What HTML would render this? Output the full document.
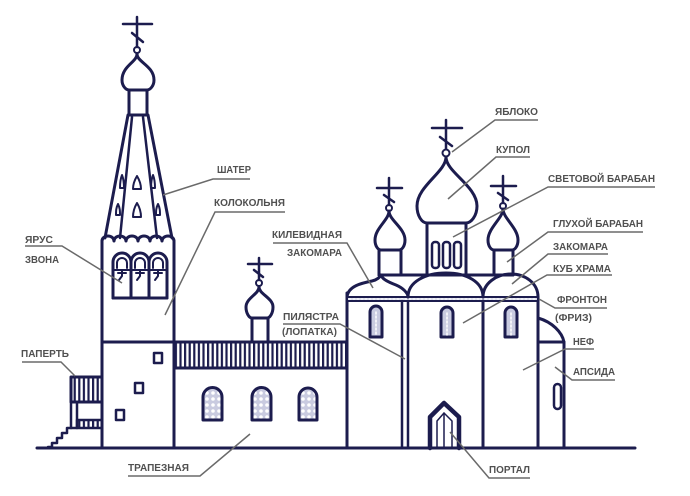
<!DOCTYPE html>
<html><head><meta charset="utf-8">
<style>
html,body{margin:0;padding:0;background:#fff;}
svg{display:block;}
text{font-family:"Liberation Sans",Arial,sans-serif;font-weight:bold;font-size:10px;fill:#505050;}
</style></head>
<body>
<svg width="690" height="496" viewBox="0 0 690 496" xmlns="http://www.w3.org/2000/svg">
<defs>
<pattern id="bars" x="0" y="0" width="4.6" height="10" patternUnits="userSpaceOnUse">
<rect x="0" y="0" width="2.2" height="10" fill="#1c1c4e"/>
</pattern>
<pattern id="latt" x="0" y="0" width="6" height="6" patternUnits="userSpaceOnUse">
<rect width="6" height="6" fill="#c9cbe0"/>
<circle cx="3" cy="3" r="1.8" fill="#fff"/>
</pattern>
</defs>
<g fill="none" stroke="#1c1c4e" stroke-width="3" stroke-linejoin="round" stroke-linecap="round">
<!-- ground -->
<line x1="37" y1="448" x2="635" y2="448"/>

<!-- ===== BELL TOWER ===== -->
<line x1="137" y1="17" x2="137" y2="47" stroke-width="2.5"/>
<line x1="123" y1="24" x2="152" y2="24" stroke-width="2.5"/>
<line x1="132" y1="33" x2="143" y2="42" stroke-width="2.5"/>
<circle cx="137" cy="50" r="3" stroke-width="2"/>
<path d="M137,54 C137,62 122,66 122,80 C122,86 126,90 129,90 L147,90 C150,90 154,86 154,80 C154,66 137,62 137,54 Z"/>
<rect x="129" y="90" width="18" height="25"/>
<line x1="128" y1="115" x2="105" y2="238"/>
<line x1="148" y1="115" x2="172" y2="238"/>
<line x1="132" y1="117" x2="120" y2="238" stroke-width="2.5"/>
<line x1="143" y1="117" x2="157" y2="238" stroke-width="2.5"/>
<!-- tent windows -->
<g stroke-width="2">
<path d="M137,176 C134,181 133,185 133,189 L141,189 C141,185 140,181 137,176 Z"/>
<path d="M137,203 C134,208 133,212 133,217 L141,217 C141,212 140,208 137,203 Z"/>
<path d="M122,175 C120,180 120,184 120,188 L124,188 C124,184 124,180 122,175 Z"/>
<path d="M153,175 C151,180 151,184 151,188 L155,188 C155,184 155,180 153,175 Z"/>
<path d="M118,204 C116,208 116,211 116,215 L120,215 C120,211 120,208 118,204 Z"/>
<path d="M158,204 C156,208 156,211 156,215 L160,215 C160,211 160,208 158,204 Z"/>
</g>
<!-- scallops -->
<path d="M102,248 L102,241 a6,5 0 0 1 12,0 a6,5 0 0 1 12,0 a6,5 0 0 1 12,0 a6,5 0 0 1 12,0 a6,5 0 0 1 12,0 a6,5 0 0 1 12,0 L174,248"/>
<line x1="102" y1="241" x2="102" y2="448"/>
<line x1="174" y1="241" x2="174" y2="448"/>
<line x1="102" y1="342" x2="174" y2="342"/>
<!-- bell openings -->
<path d="M113,298 L113,262 A9,9 0 0 1 131,262 L131,298"/>
<path d="M131,262 A9,9 0 0 1 149,262 L149,298"/>
<path d="M149,262 A9,9 0 0 1 167,262 L167,298"/>
<line x1="113" y1="298" x2="167" y2="298"/>
<path d="M117,268 L117,263 A5,5 0 0 1 127,263 L127,268" stroke-width="2"/>
<path d="M135,268 L135,263 A5,5 0 0 1 145,263 L145,268" stroke-width="2"/>
<path d="M153,268 L153,263 A5,5 0 0 1 163,263 L163,268" stroke-width="2"/>
<line x1="113" y1="270" x2="167" y2="270" stroke-width="2"/>
<g stroke-width="2">
<path d="M122,270 L122,276 L119,280"/><path d="M140,270 L140,276 L137,280"/><path d="M158,270 L158,276 L155,280"/>
<line x1="118" y1="273" x2="126" y2="273"/><line x1="136" y1="273" x2="144" y2="273"/><line x1="154" y1="273" x2="162" y2="273"/>
</g>
<!-- tower small windows -->
<rect x="154" y="353" width="8" height="10" stroke-width="2.5"/>
<rect x="135" y="383" width="8" height="10" stroke-width="2.5"/>
<rect x="116" y="410" width="8" height="10" stroke-width="2.5"/>
<!-- porch -->
<rect x="71" y="377" width="31" height="25" fill="url(#bars)"/>
<rect x="71" y="402" width="6" height="26" stroke-width="2.5"/>
<rect x="77" y="420" width="25" height="8" fill="url(#bars)" stroke-width="2.5"/>
<path d="M71,428 L67,428 L67,433 L62,433 L62,438 L57,438 L57,443 L52,443 L52,447 L48,447" stroke-width="2.5"/>

<!-- ===== TRAPEZNAYA ===== -->
<rect x="174" y="342" width="173" height="26" fill="url(#bars)"/>
<line x1="259" y1="258" x2="259" y2="280" stroke-width="2.5"/>
<line x1="248" y1="264" x2="272" y2="264" stroke-width="2.5"/>
<line x1="254" y1="270" x2="263" y2="277" stroke-width="2.5"/>
<circle cx="259" cy="283" r="3" stroke-width="2"/>
<path d="M259,287 C259,294 246,298 246,307 C246,313 249,318 252,318 L267,318 C270,318 273,313 273,307 C273,298 259,294 259,287 Z"/>
<rect x="252" y="318" width="16" height="24"/>
<path d="M203,420 L203,397 A9.5,9.5 0 0 1 222,397 L222,420 Z" fill="url(#latt)"/>
<path d="M252,420 L252,397 A9.5,9.5 0 0 1 271,397 L271,420 Z" fill="url(#latt)"/>
<path d="M299,420 L299,397 A9,9 0 0 1 317,397 L317,420 Z" fill="url(#latt)"/>

<!-- ===== MAIN CHURCH ===== -->
<line x1="347" y1="293" x2="347" y2="448"/>
<line x1="538" y1="297" x2="538" y2="448"/>
<rect x="347" y="297" width="191" height="4" fill="#d4d6e8" stroke-width="2"/>
<line x1="349" y1="299" x2="536" y2="299" stroke="#fff" stroke-width="1.2" stroke-dasharray="2 2"/>
<line x1="402" y1="301" x2="402" y2="448" stroke-width="2.5"/>
<line x1="408" y1="301" x2="408" y2="448" stroke-width="2.5"/>
<line x1="483" y1="301" x2="483" y2="448"/>
<!-- zakomaras -->
<path d="M347,297 C348,286 362,283 372,281 C377,280 380,277 381,275 C382,279 388,282 396,285 C403,288 408,293 408,297"/>
<path d="M408,297 C408,282 425,273 446,273 C467,273 483,282 483,297"/>
<path d="M483,297 C483,283 497,274 511,274 C525,274 538,283 538,297"/>
<line x1="379" y1="275" x2="427" y2="275"/>
<line x1="466" y1="275" x2="513" y2="275"/>
<!-- left dome -->
<line x1="389" y1="178" x2="389" y2="205" stroke-width="2.5"/>
<line x1="377" y1="188" x2="402" y2="188" stroke-width="2.5"/>
<line x1="384" y1="195" x2="394" y2="202" stroke-width="2.5"/>
<circle cx="389" cy="208" r="3" stroke-width="2"/>
<path d="M389,211 C389,220 375,228 375,240 C375,246 378,250 381,250 L399,250 C402,250 405,246 405,240 C405,228 389,220 389,211 Z"/>
<rect x="379" y="250" width="22" height="25"/>
<!-- central dome -->
<line x1="446" y1="120" x2="446" y2="149" stroke-width="2.5"/>
<line x1="432" y1="128" x2="462" y2="128" stroke-width="2.5"/>
<line x1="440" y1="137" x2="452" y2="146" stroke-width="2.5"/>
<circle cx="446" cy="153" r="3.5" stroke-width="2"/>
<path d="M446,157 C446,172 417,186 417,206 C417,216 422,223 427,223 L466,223 C471,223 477,216 477,206 C477,186 446,172 446,157 Z"/>
<rect x="427" y="223" width="39" height="52"/>
<rect x="432" y="242" width="7" height="26" rx="3" stroke-width="2.5"/>
<rect x="443" y="242" width="7" height="26" rx="3" stroke-width="2.5"/>
<rect x="454" y="242" width="7" height="26" rx="3" stroke-width="2.5"/>
<!-- right dome -->
<line x1="503" y1="176" x2="503" y2="203" stroke-width="2.5"/>
<line x1="491" y1="186" x2="516" y2="186" stroke-width="2.5"/>
<line x1="498" y1="193" x2="508" y2="200" stroke-width="2.5"/>
<circle cx="503" cy="206" r="3" stroke-width="2"/>
<path d="M503,209 C503,218 488,228 488,240 C488,246 491,250 494,250 L512,250 C515,250 518,246 518,240 C518,228 503,218 503,209 Z"/>
<rect x="494" y="250" width="19" height="25"/>
<!-- narrow windows -->
<path d="M370,337 L370,312 A6,6 0 0 1 382,312 L382,337 Z" fill="#c9cbe0"/>
<path d="M441,337 L441,313 A6,6 0 0 1 453,313 L453,337 Z" fill="#c9cbe0"/>
<path d="M505,337 L505,313 A6,6 0 0 1 517,313 L517,337 Z" fill="#c9cbe0"/>
<g stroke="#fff" stroke-width="1.5" stroke-dasharray="2 2">
<line x1="376" y1="312" x2="376" y2="335"/><line x1="447" y1="313" x2="447" y2="335"/><line x1="511" y1="313" x2="511" y2="335"/>
</g>
<!-- portal -->
<path d="M430,448 L430,417 L444,403 L459,417 L459,448" stroke-width="4.5"/>
<path d="M437,448 L437,421 L444,413 L452,421 L452,448" stroke-width="1.5"/>
<line x1="444" y1="413" x2="444" y2="448" stroke-width="1.5"/>
<!-- apse -->
<path d="M538,318 C552,322 562,332 564,342 L564,448"/>
<line x1="538" y1="342" x2="564" y2="342"/>
<rect x="554" y="384" width="7" height="25" rx="3.5" stroke-width="2.5"/>
</g>

<!-- ===== LABELS ===== -->
<g stroke="#6a6a6a" stroke-width="1.5" fill="none">
<path d="M250,179 L213,179 L163,195"/>
<path d="M285,212 L215,212 L165,315"/>
<path d="M25,246 L62,246 L122,283"/>
<path d="M22,362 L61,362 L75,376"/>
<path d="M128,476 L200,476 L250,434"/>
<path d="M273,243 L347,243 L373,288"/>
<path d="M283,324 L340,324 L405,359"/>
<path d="M538,120 L495,120 L452,152"/>
<path d="M530,157 L496,157 L448,199"/>
<path d="M655,187 L548,187 L453,237"/>
<path d="M643,232 L548,232 L507,262"/>
<path d="M608,254 L548,254 L512,284"/>
<path d="M612,275 L547,275 L463,323"/>
<path d="M607,308 L555,308 L539,299"/>
<path d="M594,349 L565,349 L523,370"/>
<path d="M615,380 L572,380 L555,367"/>
<path d="M530,478 L489,478 L450,432"/>
</g>
<text x="217" y="173" textLength="34" lengthAdjust="spacingAndGlyphs">ШАТЕР</text>
<text x="214" y="206" textLength="71" lengthAdjust="spacingAndGlyphs">КОЛОКОЛЬНЯ</text>
<text x="25" y="243" textLength="28" lengthAdjust="spacingAndGlyphs">ЯРУС</text>
<text x="25" y="263" textLength="34" lengthAdjust="spacingAndGlyphs">ЗВОНА</text>
<text x="21" y="357" textLength="48" lengthAdjust="spacingAndGlyphs">ПАПЕРТЬ</text>
<text x="128" y="471" textLength="61" lengthAdjust="spacingAndGlyphs">ТРАПЕЗНАЯ</text>
<text x="272" y="238" textLength="70" lengthAdjust="spacingAndGlyphs">КИЛЕВИДНАЯ</text>
<text x="287" y="256" textLength="55" lengthAdjust="spacingAndGlyphs">ЗАКОМАРА</text>
<text x="283" y="320" textLength="56" lengthAdjust="spacingAndGlyphs">ПИЛЯСТРА</text>
<text x="282" y="335" textLength="55" lengthAdjust="spacingAndGlyphs">(ЛОПАТКА)</text>
<text x="495" y="115" textLength="43" lengthAdjust="spacingAndGlyphs">ЯБЛОКО</text>
<text x="496" y="153" textLength="34" lengthAdjust="spacingAndGlyphs">КУПОЛ</text>
<text x="548" y="182" textLength="107" lengthAdjust="spacingAndGlyphs">СВЕТОВОЙ БАРАБАН</text>
<text x="553" y="227" textLength="90" lengthAdjust="spacingAndGlyphs">ГЛУХОЙ БАРАБАН</text>
<text x="553" y="250" textLength="55" lengthAdjust="spacingAndGlyphs">ЗАКОМАРА</text>
<text x="553" y="272" textLength="58" lengthAdjust="spacingAndGlyphs">КУБ ХРАМА</text>
<text x="557" y="303" textLength="50" lengthAdjust="spacingAndGlyphs">ФРОНТОН</text>
<text x="555" y="321" textLength="37" lengthAdjust="spacingAndGlyphs">(ФРИЗ)</text>
<text x="573" y="345" textLength="21" lengthAdjust="spacingAndGlyphs">НЕФ</text>
<text x="573" y="375" textLength="42" lengthAdjust="spacingAndGlyphs">АПСИДА</text>
<text x="489" y="473" textLength="41" lengthAdjust="spacingAndGlyphs">ПОРТАЛ</text>
</svg>
</body></html>
